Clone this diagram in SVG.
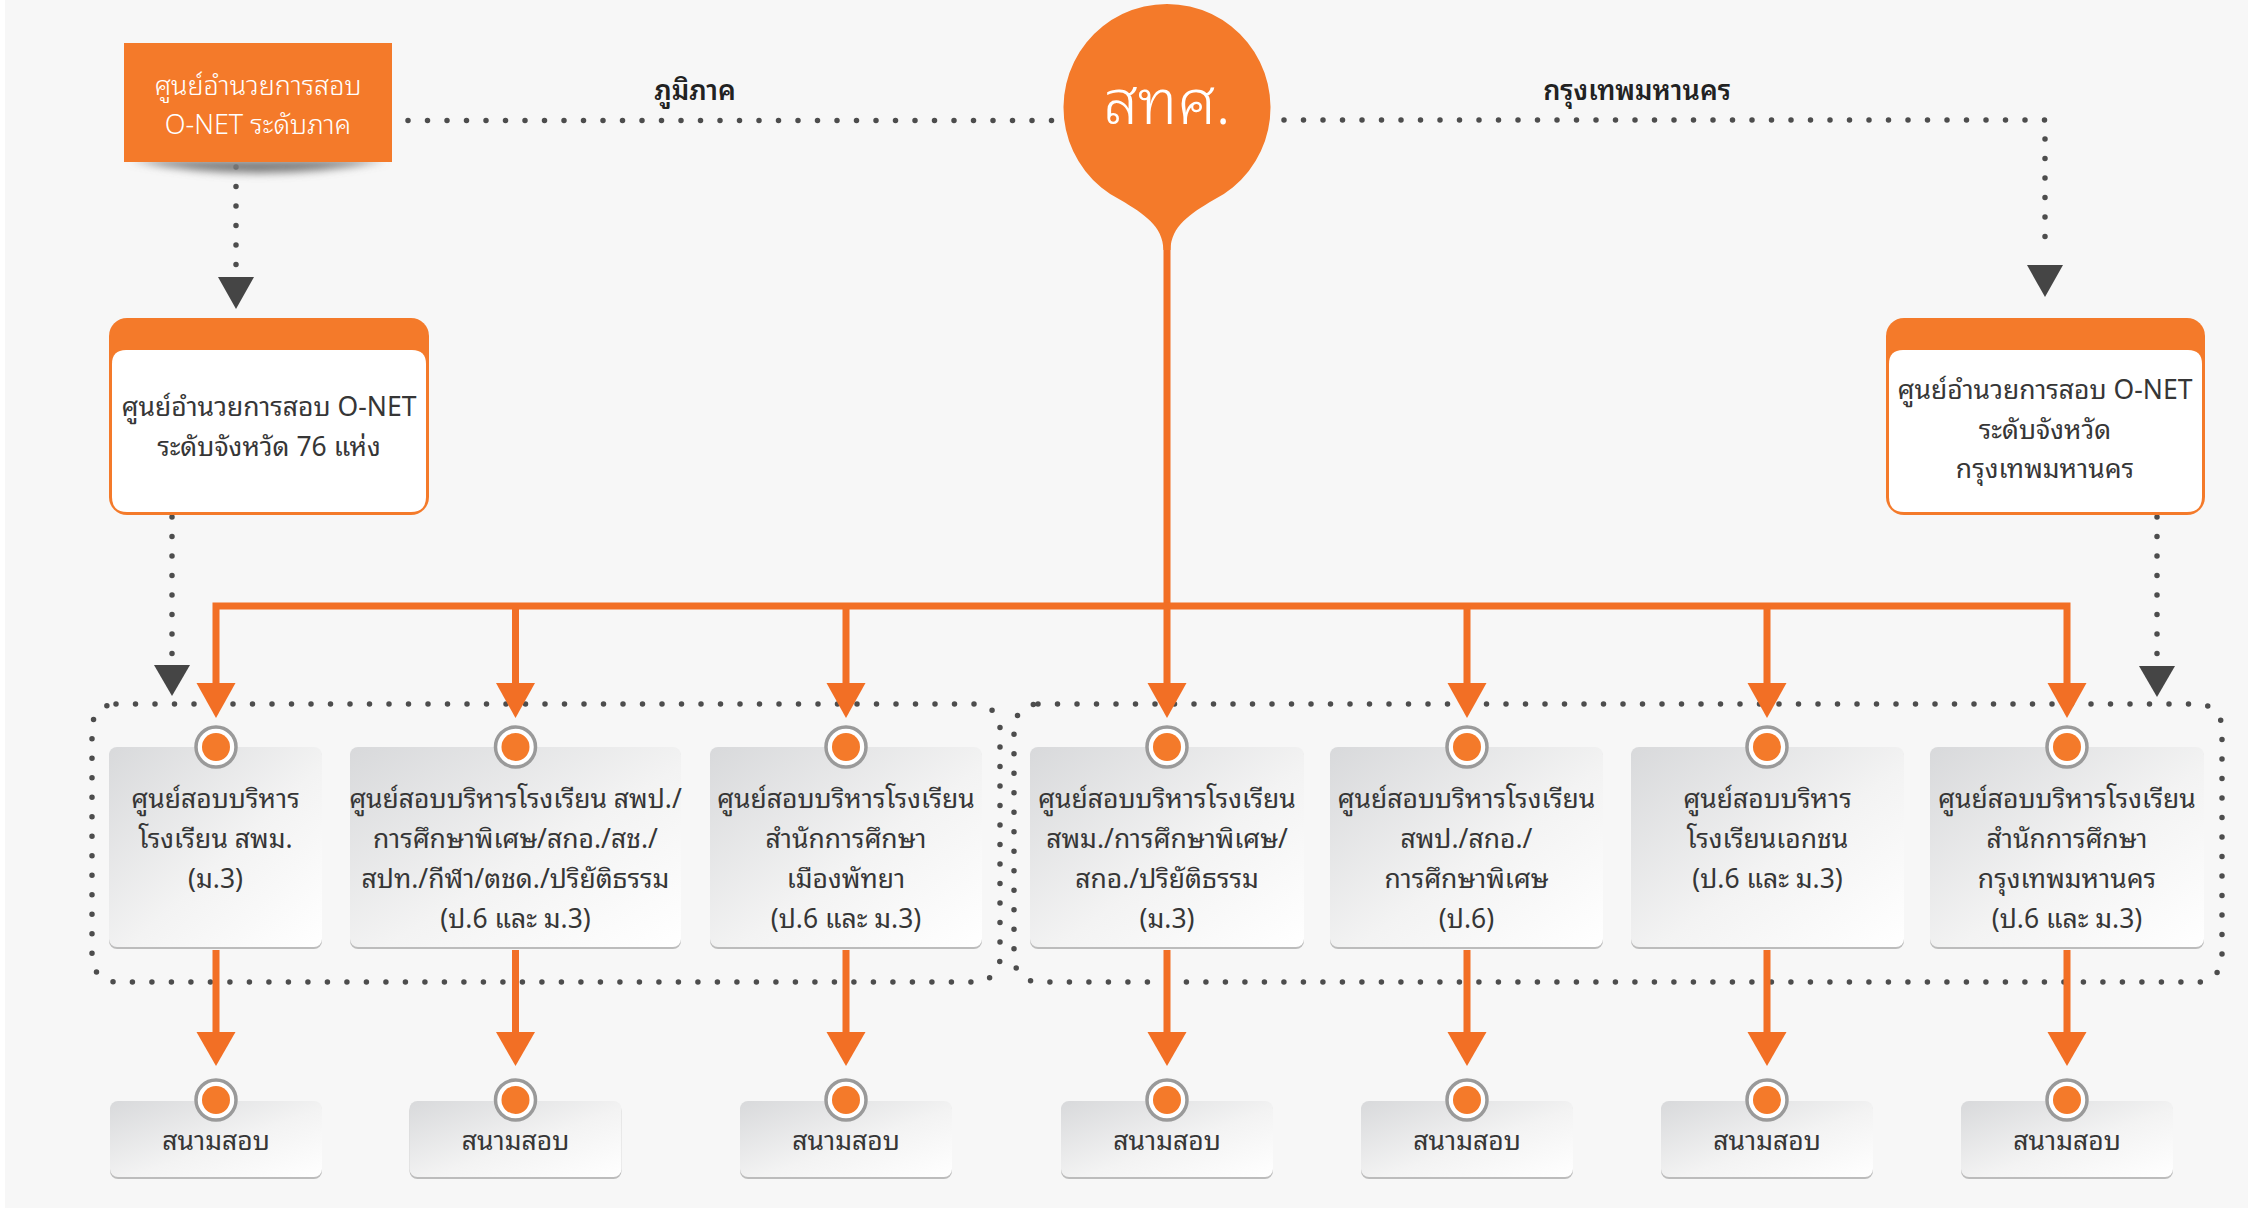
<svg xmlns="http://www.w3.org/2000/svg" width="2248" height="1208" viewBox="0 0 2248 1208">
<style>
.bg{fill:#f7f7f7}
.dot{fill:none;stroke:#4d4d4d;stroke-width:5.5;stroke-linecap:round;stroke-dasharray:0 19.5}
.tri{fill:#454545}
.ol{fill:none;stroke:#f26f25;stroke-width:7}
.oh{fill:#f26f25}
.t{font-family:"Noto Sans Thai Looped","Noto Sans Thai","Noto Sans","DejaVu Sans",sans-serif;text-anchor:middle}
.nt{font-size:26.5px;fill:#363636}
.wt{font-size:27px;fill:#ffffff;font-weight:300}
.lb{font-size:27px;fill:#222;font-weight:600}
.ring{fill:#ffffff;stroke:#9a9a9a;stroke-width:3.5}
.core{fill:#f47a2a}
.sh{fill:#bcbcbc}
.box{fill:url(#g)}
</style>
<defs>
<linearGradient id="g" x1="0" y1="0" x2="1" y2="1">
<stop offset="0" stop-color="#d8d9db"/>
<stop offset="0.55" stop-color="#f3f3f3"/>
<stop offset="1" stop-color="#ffffff"/>
</linearGradient>
<filter id="blur" x="-20%" y="-100%" width="140%" height="300%"><feGaussianBlur stdDeviation="4"/></filter>
</defs>
<rect x="0" y="0" width="2248" height="1208" fill="#ffffff"/>
<rect class="bg" x="5" y="0" width="2243" height="1208"/>

<g id="connectors">
<path class="dot" d="M408,120.5 H1054"/>
<path class="dot" d="M1284,120 H2045 V256"/>
<polygon class="tri" points="2027,265 2063,265 2045,297"/>
<path class="dot" d="M236,167 V268"/>
<polygon class="tri" points="218,277 254,277 236,309"/>
<path class="dot" d="M172,517 V655"/>
<polygon class="tri" points="154,665 190,665 172,696"/>
<path class="dot" d="M2157,517 V655"/>
<polygon class="tri" points="2139,666 2175,666 2157,697"/>
<rect class="dot" x="92" y="704" width="908" height="278" rx="24"/>
<rect class="dot" x="1014" y="704" width="1208" height="278" rx="24"/>
<path class="ol" d="M1167,236 V606"/>
<path class="ol" d="M216,686 V606 H2067 V686"/>
<path class="ol" d="M515.5,606 V686 M846,606 V686 M1167,606 V686 M1467,606 V686 M1767,606 V686"/>
<g class="oh">
<polygon points="196.5,683 235.5,683 216,718"/>
<polygon points="496,683 535,683 515.5,718"/>
<polygon points="826.5,683 865.5,683 846,718"/>
<polygon points="1147.5,683 1186.5,683 1167,718"/>
<polygon points="1447.5,683 1486.5,683 1467,718"/>
<polygon points="1747.5,683 1786.5,683 1767,718"/>
<polygon points="2047.5,683 2086.5,683 2067,718"/>
</g>
<path class="ol" d="M216,950 V1036 M515.5,950 V1036 M846,950 V1036 M1167,950 V1036 M1467,950 V1036 M1767,950 V1036 M2067,950 V1036"/>
<g class="oh">
<polygon points="196.5,1032 235.5,1032 216,1066"/>
<polygon points="496,1032 535,1032 515.5,1066"/>
<polygon points="826.5,1032 865.5,1032 846,1066"/>
<polygon points="1147.5,1032 1186.5,1032 1167,1066"/>
<polygon points="1447.5,1032 1486.5,1032 1467,1066"/>
<polygon points="1747.5,1032 1786.5,1032 1767,1066"/>
<polygon points="2047.5,1032 2086.5,1032 2067,1066"/>
</g>
<text class="t lb" x="695" y="100">ภูมิภาค</text>
<text class="t lb" x="1637" y="100">กรุงเทพมหานคร</text>
</g>

<g id="root">
<path d="M1120.6,200 A103.5,103.5 0 1 1 1213.4,200 C1190,214 1171,226 1170.5,250 L1163.5,250 C1163,226 1144,214 1120.6,200 Z" fill="#f47a2a"/>
<text class="t" x="1167" y="124" font-size="62" fill="#ffffff" font-weight="300">สทศ.</text>
</g>

<g id="regional">
<path d="M130,160 Q258,186 386,160 Z" fill="#7a7a7a" filter="url(#blur)"/>
<rect x="124" y="43" width="268" height="119" fill="#f47a2a"/>
<text class="t wt" x="258" y="95">ศูนย์อำนวยการสอบ</text>
<text class="t wt" x="258" y="134">O-NET ระดับภาค</text>
</g>

<g id="province76">
<rect x="109" y="318" width="320" height="197" rx="18" fill="#f47a2a"/>
<path d="M112,364 Q112,350 126,350 H412 Q426,350 426,364 V497 Q426,512 411,512 H127 Q112,512 112,497 Z" fill="#ffffff"/>
<text class="t nt" x="269" y="416">ศูนย์อำนวยการสอบ O-NET</text>
<text class="t nt" x="269" y="456">ระดับจังหวัด 76 แห่ง</text>
</g>

<g id="bangkok">
<rect x="1886" y="318" width="319" height="197" rx="18" fill="#f47a2a"/>
<path d="M1889,364 Q1889,350 1903,350 H2188 Q2202,350 2202,364 V497 Q2202,512 2187,512 H1904 Q1889,512 1889,497 Z" fill="#ffffff"/>
<text class="t nt" x="2045" y="399">ศูนย์อำนวยการสอบ O-NET</text>
<text class="t nt" x="2045" y="439">ระดับจังหวัด</text>
<text class="t nt" x="2045" y="478">กรุงเทพมหานคร</text>
</g>

<g id="n1">
<rect class="sh" x="109" y="749" width="213" height="200" rx="8"/>
<rect class="box" x="109" y="747" width="213" height="200" rx="8"/>
<circle class="ring" cx="216" cy="747" r="20"/><circle class="core" cx="216" cy="747" r="14"/>
<text class="t nt" x="215.5" y="808">ศูนย์สอบบริหาร</text>
<text class="t nt" x="215.5" y="848">โรงเรียน สพม.</text>
<text class="t nt" x="215.5" y="888">(ม.3)</text>
</g>
<g id="n2">
<rect class="sh" x="350" y="749" width="331" height="200" rx="8"/>
<rect class="box" x="350" y="747" width="331" height="200" rx="8"/>
<circle class="ring" cx="515.5" cy="747" r="20"/><circle class="core" cx="515.5" cy="747" r="14"/>
<text class="t nt" x="515.5" y="808">ศูนย์สอบบริหารโรงเรียน สพป./</text>
<text class="t nt" x="515.5" y="848">การศึกษาพิเศษ/สกอ./สช./</text>
<text class="t nt" x="515.5" y="888">สปท./กีฬา/ตชด./ปริยัติธรรม</text>
<text class="t nt" x="515.5" y="928">(ป.6 และ ม.3)</text>
</g>
<g id="n3">
<rect class="sh" x="710" y="749" width="272" height="200" rx="8"/>
<rect class="box" x="710" y="747" width="272" height="200" rx="8"/>
<circle class="ring" cx="846" cy="747" r="20"/><circle class="core" cx="846" cy="747" r="14"/>
<text class="t nt" x="846" y="808">ศูนย์สอบบริหารโรงเรียน</text>
<text class="t nt" x="846" y="848">สำนักการศึกษา</text>
<text class="t nt" x="846" y="888">เมืองพัทยา</text>
<text class="t nt" x="846" y="928">(ป.6 และ ม.3)</text>
</g>
<g id="n4">
<rect class="sh" x="1030" y="749" width="274" height="200" rx="8"/>
<rect class="box" x="1030" y="747" width="274" height="200" rx="8"/>
<circle class="ring" cx="1167" cy="747" r="20"/><circle class="core" cx="1167" cy="747" r="14"/>
<text class="t nt" x="1167" y="808">ศูนย์สอบบริหารโรงเรียน</text>
<text class="t nt" x="1167" y="848">สพม./การศึกษาพิเศษ/</text>
<text class="t nt" x="1167" y="888">สกอ./ปริยัติธรรม</text>
<text class="t nt" x="1167" y="928">(ม.3)</text>
</g>
<g id="n5">
<rect class="sh" x="1330" y="749" width="273" height="200" rx="8"/>
<rect class="box" x="1330" y="747" width="273" height="200" rx="8"/>
<circle class="ring" cx="1467" cy="747" r="20"/><circle class="core" cx="1467" cy="747" r="14"/>
<text class="t nt" x="1466.5" y="808">ศูนย์สอบบริหารโรงเรียน</text>
<text class="t nt" x="1466.5" y="848">สพป./สกอ./</text>
<text class="t nt" x="1466.5" y="888">การศึกษาพิเศษ</text>
<text class="t nt" x="1466.5" y="928">(ป.6)</text>
</g>
<g id="n6">
<rect class="sh" x="1631" y="749" width="273" height="200" rx="8"/>
<rect class="box" x="1631" y="747" width="273" height="200" rx="8"/>
<circle class="ring" cx="1767" cy="747" r="20"/><circle class="core" cx="1767" cy="747" r="14"/>
<text class="t nt" x="1767.5" y="808">ศูนย์สอบบริหาร</text>
<text class="t nt" x="1767.5" y="848">โรงเรียนเอกชน</text>
<text class="t nt" x="1767.5" y="888">(ป.6 และ ม.3)</text>
</g>
<g id="n7">
<rect class="sh" x="1930" y="749" width="274" height="200" rx="8"/>
<rect class="box" x="1930" y="747" width="274" height="200" rx="8"/>
<circle class="ring" cx="2067" cy="747" r="20"/><circle class="core" cx="2067" cy="747" r="14"/>
<text class="t nt" x="2067" y="808">ศูนย์สอบบริหารโรงเรียน</text>
<text class="t nt" x="2067" y="848">สำนักการศึกษา</text>
<text class="t nt" x="2067" y="888">กรุงเทพมหานคร</text>
<text class="t nt" x="2067" y="928">(ป.6 และ ม.3)</text>
</g>

<g id="sites">
<g id="s1"><rect class="sh" x="110" y="1103" width="212" height="76" rx="8"/><rect class="box" x="110" y="1101" width="212" height="76" rx="8"/><circle class="ring" cx="216" cy="1100" r="20"/><circle class="core" cx="216" cy="1100" r="14"/><text class="t nt" x="216" y="1150">สนามสอบ</text></g>
<g id="s2"><rect class="sh" x="409.5" y="1103" width="212" height="76" rx="8"/><rect class="box" x="409.5" y="1101" width="212" height="76" rx="8"/><circle class="ring" cx="515.5" cy="1100" r="20"/><circle class="core" cx="515.5" cy="1100" r="14"/><text class="t nt" x="515.5" y="1150">สนามสอบ</text></g>
<g id="s3"><rect class="sh" x="740" y="1103" width="212" height="76" rx="8"/><rect class="box" x="740" y="1101" width="212" height="76" rx="8"/><circle class="ring" cx="846" cy="1100" r="20"/><circle class="core" cx="846" cy="1100" r="14"/><text class="t nt" x="846" y="1150">สนามสอบ</text></g>
<g id="s4"><rect class="sh" x="1061" y="1103" width="212" height="76" rx="8"/><rect class="box" x="1061" y="1101" width="212" height="76" rx="8"/><circle class="ring" cx="1167" cy="1100" r="20"/><circle class="core" cx="1167" cy="1100" r="14"/><text class="t nt" x="1167" y="1150">สนามสอบ</text></g>
<g id="s5"><rect class="sh" x="1361" y="1103" width="212" height="76" rx="8"/><rect class="box" x="1361" y="1101" width="212" height="76" rx="8"/><circle class="ring" cx="1467" cy="1100" r="20"/><circle class="core" cx="1467" cy="1100" r="14"/><text class="t nt" x="1467" y="1150">สนามสอบ</text></g>
<g id="s6"><rect class="sh" x="1661" y="1103" width="212" height="76" rx="8"/><rect class="box" x="1661" y="1101" width="212" height="76" rx="8"/><circle class="ring" cx="1767" cy="1100" r="20"/><circle class="core" cx="1767" cy="1100" r="14"/><text class="t nt" x="1767" y="1150">สนามสอบ</text></g>
<g id="s7"><rect class="sh" x="1961" y="1103" width="212" height="76" rx="8"/><rect class="box" x="1961" y="1101" width="212" height="76" rx="8"/><circle class="ring" cx="2067" cy="1100" r="20"/><circle class="core" cx="2067" cy="1100" r="14"/><text class="t nt" x="2067" y="1150">สนามสอบ</text></g>
</g>
</svg>
